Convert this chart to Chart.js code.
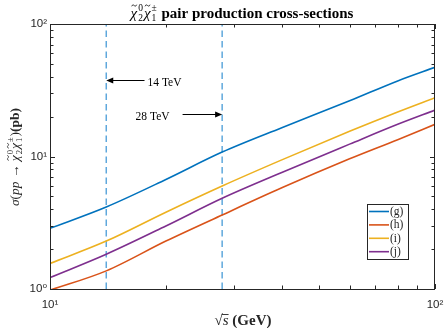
<!DOCTYPE html>
<html>
<head>
<meta charset="utf-8">
<script src="https://cdn.jsdelivr.net/npm/chart.js@4.4.1/dist/chart.umd.min.js"></script>
<style>html,body{margin:0;padding:0;background:#fff}</style>
</head>
<body>
<canvas id="c" width="445" height="328"></canvas>
<script>
// sqrt(s) in GeV
const energies = [10, 14, 20, 28, 40, 60, 80, 100];
const seriesLabels = ['(g)', '(h)', '(i)', '(j)'];
const sigmaG = [2.87, 4.16, 6.71, 10.8, 16.5, 26.3, 37.2, 47.1];
const sigmaH = [0.98, 1.37, 2.30, 3.62, 5.80, 9.60, 13.4, 17.5];
const sigmaI = [1.56, 2.30, 3.80, 5.99, 9.43, 15.5, 21.7, 27.8];
const sigmaJ = [1.22, 1.83, 2.99, 4.84, 7.58, 12.4, 17.5, 22.4];
const seriesColors = ['#0072BD', '#D95319', '#EDB120', '#7E2F8E'];

// vertical reference lines + arrow notes
const markerEnergies = [14, 28];
const arrowLabels = ['14 TeV', '28 TeV'];
const arrowTail = [17.6, 22.1];
const arrowLevel = [37.8, 20.9];

const xTickValues = [10, 20, 30, 40, 50, 60, 70, 80, 90, 100];
const yTickValues = [1, 2, 3, 4, 5, 6, 7, 8, 9, 10, 20, 30, 40, 50, 60, 70, 80, 90, 100];
const sup = { 0: '\u2070', 1: '\u00b9', 2: '\u00b2' };

const ink = '#262626';
const serif = '"Liberation Serif", "DejaVu Serif", serif';

function toPoints(ys) {
    return energies.map((e, i) => ({ x: e, y: ys[i] }));
}

const curves = [sigmaG, sigmaH, sigmaI, sigmaJ].map((ys, i) => ({
    label: seriesLabels[i],
    data: toPoints(ys),
    borderColor: seriesColors[i],
    borderWidth: 1.6,
    pointRadius: 0,
    cubicInterpolationMode: 'monotone',
    order: i
}));

const markers = markerEnergies.map(e => ({
    label: 'marker',
    data: [{ x: e, y: 1 }, { x: e, y: 100 }],
    borderColor: '#5fa8dc',
    borderWidth: 1.5,
    borderDash: [6.5, 4],
    pointRadius: 0,
    order: 10
}));

// rich text: plain parts {t, font} or stacked {sup, sub, font}
function partWidth(ctx, p) {
    ctx.font = p.font;
    if (p.sup !== undefined) return Math.max(ctx.measureText(p.sup).width, ctx.measureText(p.sub).width) + 2;
    return ctx.measureText(p.t).width;
}
function drawRich(ctx, parts, cx, base) {
    const total = parts.reduce((s, p) => s + partWidth(ctx, p), 0);
    let xx = cx - total / 2;
    ctx.textAlign = 'left';
    ctx.textBaseline = 'alphabetic';
    for (const p of parts) {
        const w = partWidth(ctx, p);
        ctx.font = p.font;
        if (p.sup !== undefined) {
            ctx.fillText(p.sup, xx + 1, base - p.up);
            ctx.fillText(p.sub, xx + 1, base + p.down);
        } else {
            ctx.fillText(p.t, xx, base);
            if (p.bar) ctx.fillRect(xx - 1, base - p.bar, w + 1, 0.9);
            if (p.tilde) {
                // small tilde above the glyph
                const tx = xx + w * 0.55, ty = base - p.tilde;
                ctx.save();
                ctx.lineWidth = 0.8;
                ctx.strokeStyle = ctx.fillStyle;
                ctx.beginPath();
                ctx.moveTo(tx - 2.5, ty + 0.8);
                ctx.bezierCurveTo(tx - 1.8, ty - 1.2, tx - 0.6, ty - 0.6, tx, ty);
                ctx.bezierCurveTo(tx + 0.6, ty + 0.6, tx + 1.8, ty + 1.2, tx + 2.5, ty - 0.8);
                ctx.stroke();
                ctx.restore();
            }
        }
        xx += w;
    }
}

const decor = {
    id: 'decor',
    afterDatasetsDraw(chart) {
        const { ctx, chartArea: a, scales: { x, y } } = chart;
        ctx.save();
        ctx.fillStyle = ink;
        ctx.strokeStyle = ink;
        ctx.lineWidth = 1;

        // box
        ctx.strokeRect(a.left + 0.5, a.top + 0.5, a.right - a.left - 1, a.bottom - a.top);

        // inward ticks on all sides
        ctx.beginPath();
        xTickValues.forEach(v => {
            const px = Math.round(x.getPixelForValue(v)) + 0.5;
            const len = Number.isInteger(Math.log10(v)) ? 5 : 3.5;
            ctx.moveTo(px, a.bottom); ctx.lineTo(px, a.bottom - len);
            ctx.moveTo(px, a.top); ctx.lineTo(px, a.top + len);
        });
        yTickValues.forEach(v => {
            const py = Math.round(y.getPixelForValue(v)) + 0.5;
            const len = Number.isInteger(Math.log10(v)) ? 5 : 3.5;
            ctx.moveTo(a.left, py); ctx.lineTo(a.left + len, py);
            ctx.moveTo(a.right, py); ctx.lineTo(a.right - len, py);
        });
        ctx.stroke();

        // arrows
        ctx.strokeStyle = '#000';
        ctx.fillStyle = '#000';
        arrowLabels.forEach((lab, i) => {
            const x0 = x.getPixelForValue(arrowTail[i]);
            const x1 = x.getPixelForValue(markerEnergies[i]);
            const py = Math.round(y.getPixelForValue(arrowLevel[i])) + 0.5;
            const dir = Math.sign(x1 - x0);
            ctx.beginPath();
            ctx.moveTo(x0, py); ctx.lineTo(x1 - dir * 5, py);
            ctx.stroke();
            ctx.beginPath();
            ctx.moveTo(x1, py);
            ctx.lineTo(x1 - dir * 7, py - 3);
            ctx.lineTo(x1 - dir * 7, py + 3);
            ctx.closePath();
            ctx.fill();
            ctx.font = '11.5px ' + serif;
            ctx.textBaseline = 'middle';
            if (dir < 0) {
                ctx.textAlign = 'left';
                ctx.fillText(lab, x0 + 3, py + 2);
            } else {
                ctx.textAlign = 'right';
                ctx.fillText(lab, x0 - 13, py + 2);
            }
        });

        // legend
        const lx = 367, ly = 204, lw = 41, lh = 55;
        ctx.fillStyle = '#fff';
        ctx.fillRect(lx, ly, lw, lh);
        ctx.strokeStyle = ink;
        ctx.strokeRect(lx + 0.5, ly + 0.5, lw, lh);
        chart.data.datasets.filter(d => d.label !== 'marker').forEach((d, i) => {
            const ry = ly + 7.5 + i * 13.4;
            ctx.strokeStyle = d.borderColor;
            ctx.lineWidth = 1.6;
            ctx.beginPath();
            ctx.moveTo(lx + 2, ry); ctx.lineTo(lx + 22, ry);
            ctx.stroke();
            ctx.fillStyle = ink;
            ctx.font = '11.5px ' + serif;
            ctx.textAlign = 'left';
            ctx.textBaseline = 'middle';
            ctx.fillText(d.label, lx + 23, ry + 0.5);
        });
        ctx.restore();
    },
    afterDraw(chart) {
        const { ctx } = chart;
        ctx.save();
        ctx.fillStyle = '#000';
        const it = 'italic 15px ' + serif, sm = '9.5px ' + serif;
        // title
        drawRich(ctx, [
            { t: 'χ', font: it, tilde: 12 },
            { sup: '0', sub: '2', font: sm, up: 7, down: 3 },
            { t: 'χ', font: it, tilde: 12 },
            { sup: '±', sub: '1', font: sm, up: 7, down: 3 },
            { t: ' pair production cross-sections', font: 'bold 15px ' + serif }
        ], 242, 17.5);

        // y title
        ctx.fillStyle = ink;
        ctx.translate(15, 157);
        ctx.rotate(-Math.PI / 2);
        const it2 = 'italic 13.5px ' + serif, rm2 = '13.5px ' + serif, sm2 = '8.5px ' + serif;
        drawRich(ctx, [
            { t: 'σ', font: it2 },
            { t: '(', font: rm2 },
            { t: 'pp', font: it2 },
            { t: ' → ', font: rm2 },
            { t: 'χ', font: it2, tilde: 11 },
            { sup: '0', sub: '2', font: sm2, up: 6.5, down: 3 },
            { t: 'χ', font: it2, tilde: 11 },
            { sup: '±', sub: '1', font: sm2, up: 6.5, down: 3 },
            { t: ')', font: rm2 },
            { t: '(pb)', font: 'bold 13.5px ' + serif }
        ], 0, 4);
        ctx.setTransform(1, 0, 0, 1, 0, 0);

        // x title
        drawRich(ctx, [
            { t: '√', font: '15px ' + serif },
            { t: 's', font: 'italic 15px ' + serif, bar: 11 },
            { t: ' (GeV)', font: 'bold 15px ' + serif }
        ], 243, 325);
        ctx.restore();
    }
};

const tickFont = { family: '"Liberation Sans", Arial, "DejaVu Sans", sans-serif', size: 11.5 };

new Chart(document.getElementById('c'), {
    type: 'line',
    data: { datasets: [...curves, ...markers] },
    options: {
        responsive: false,
        animation: false,
        devicePixelRatio: 1,
        layout: { padding: { top: 24, right: 10, left: 0, bottom: 0 } },
        plugins: { legend: { display: false }, tooltip: { enabled: false }, title: { display: false } },
        scales: {
            x: {
                type: 'logarithmic',
                min: 10, max: 100,
                border: { display: false },
                grid: { display: false, drawTicks: false },
                afterBuildTicks: s => { s.ticks = xTickValues.map(v => ({ value: v })); },
                afterFit: s => { s.height = 39; s.paddingLeft = 0; s.paddingRight = 0; },
                ticks: {
                    autoSkip: false, maxRotation: 0, padding: 9,
                    color: ink, font: tickFont,
                    callback: v => Number.isInteger(Math.log10(v)) ? '10' + sup[Math.log10(v)] : ''
                }
            },
            y: {
                type: 'logarithmic',
                min: 1, max: 100,
                border: { display: false },
                grid: { display: false, drawTicks: false },
                afterBuildTicks: s => { s.ticks = yTickValues.map(v => ({ value: v })); },
                afterFit: s => { s.width = 50; s.paddingTop = 0; s.paddingBottom = 0; },
                ticks: {
                    autoSkip: false, padding: 3,
                    color: ink, font: tickFont,
                    callback: v => Number.isInteger(Math.log10(v)) ? '10' + sup[Math.log10(v)] : ''
                }
            }
        }
    },
    plugins: [decor]
});
</script>
</body>
</html>
